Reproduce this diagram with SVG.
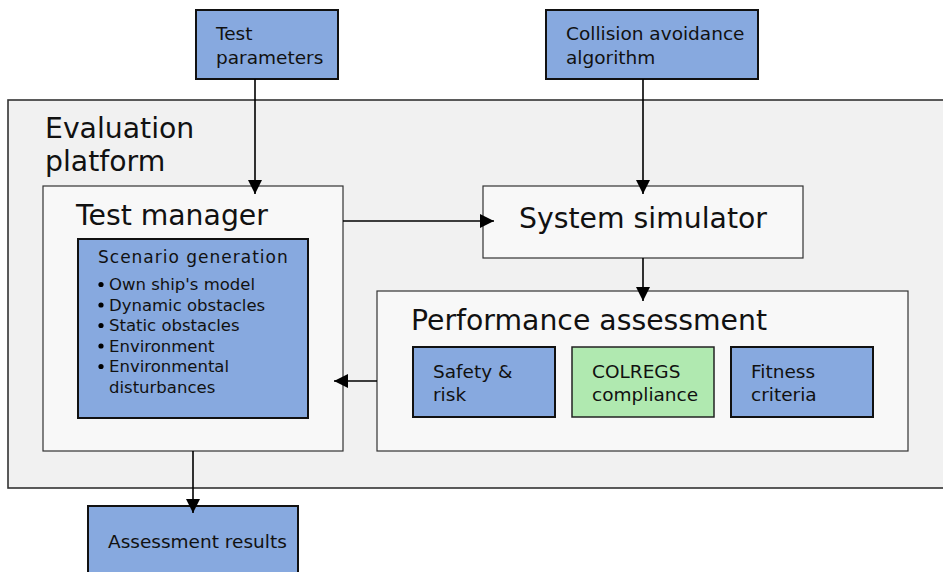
<svg xmlns="http://www.w3.org/2000/svg" width="943" height="572" viewBox="0 0 943 572">
<style>
text{font-family:"DejaVu Sans","Liberation Sans",sans-serif;fill:#111}
.big{font-size:28.3px}
.mid{font-size:18.5px}
.sm{font-size:16.5px}
.blue{fill:#87a9df;stroke:#111;stroke-width:2}
.green{fill:#b0e9b0;stroke:#222;stroke-width:1.5}
.cont{fill:#f8f8f8;stroke:#333;stroke-width:1.2}
.conn{stroke:#000;stroke-width:1.6;fill:none;marker-end:url(#ah)}
</style>
<defs>
<marker id="ah" viewBox="0 0 10 10" refX="10" refY="5" markerUnits="userSpaceOnUse" markerWidth="14" markerHeight="14" orient="auto">
<path d="M0,0 L10,5 L0,10 Z" fill="#000"/>
</marker>
</defs>
<g id="platform">
<rect x="8" y="100" width="936" height="388" fill="#f1f1f1" stroke="#333" stroke-width="1.6"/>
<text class="big" x="45" y="138">Evaluation</text>
<text class="big" x="45" y="171">platform</text>
</g>
<g id="test-parameters">
<rect class="blue" x="196" y="10" width="142" height="69"/>
<text class="mid" x="216" y="40">Test</text>
<text class="mid" x="216" y="64">parameters</text>
</g>
<g id="collision-avoidance">
<rect class="blue" x="546" y="10" width="212" height="69"/>
<text class="mid" x="566" y="40">Collision avoidance</text>
<text class="mid" x="566" y="64">algorithm</text>
</g>
<g id="test-manager">
<rect class="cont" x="43" y="186" width="300" height="265"/>
<text class="big" x="76" y="225">Test manager</text>
</g>
<g id="scenario-generation">
<rect class="blue" x="78" y="239" width="230" height="179"/>
<text x="98" y="263" style="font-size:17px;letter-spacing:1px">Scenario generation</text>
<g fill="#000">
<circle cx="101" cy="284.5" r="2.6"/>
<circle cx="101" cy="305" r="2.6"/>
<circle cx="101" cy="325.5" r="2.6"/>
<circle cx="101" cy="346" r="2.6"/>
<circle cx="101" cy="366.5" r="2.6"/>
</g>
<text class="sm" x="109" y="290">Own ship's model</text>
<text class="sm" x="109" y="310.5">Dynamic obstacles</text>
<text class="sm" x="109" y="331">Static obstacles</text>
<text class="sm" x="109" y="351.5">Environment</text>
<text class="sm" x="109" y="372">Environmental</text>
<text class="sm" x="109" y="392.5">disturbances</text>
</g>
<g id="system-simulator">
<rect class="cont" x="483" y="186" width="320" height="72"/>
<text class="big" x="643" y="228" text-anchor="middle">System simulator</text>
</g>
<g id="performance-assessment">
<rect class="cont" x="377" y="291" width="531" height="160"/>
<text class="big" x="411" y="330">Performance assessment</text>
</g>
<g id="safety-risk">
<rect class="blue" x="413" y="347" width="142" height="70"/>
<text class="mid" x="433" y="378">Safety &amp;</text>
<text class="mid" x="433" y="401">risk</text>
</g>
<g id="colregs">
<rect class="green" x="572" y="347" width="142" height="70"/>
<text class="mid" x="592" y="378">COLREGS</text>
<text class="mid" x="592" y="401">compliance</text>
</g>
<g id="fitness">
<rect class="blue" x="731" y="347" width="142" height="70"/>
<text class="mid" x="751" y="378">Fitness</text>
<text class="mid" x="751" y="401">criteria</text>
</g>
<g id="assessment-results">
<rect class="blue" x="88" y="506" width="210" height="70"/>
<text class="mid" x="108" y="548">Assessment results</text>
</g>
<g id="connectors">
<path class="conn" d="M255,79 V194"/>
<path class="conn" d="M643,79 V194"/>
<path class="conn" d="M343,221 H494"/>
<path class="conn" d="M643,258 V301"/>
<path class="conn" d="M377,381 H334"/>
<path class="conn" d="M193,451 V513"/>
</g>
</svg>
